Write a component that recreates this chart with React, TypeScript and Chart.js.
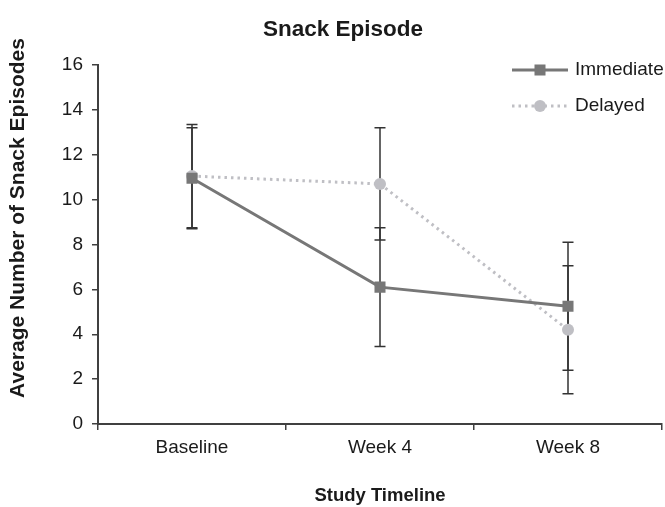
import React, { useEffect, useRef } from 'react';
import { Chart, registerables } from 'chart.js';

Chart.register(...registerables);

const categories = ['Baseline', 'Week 4', 'Week 8'];
const immediateMeans = [10.95, 6.1, 5.25];
const immediateErr = [2.25, 2.65, 2.85];
const delayedMeans = [11.05, 10.7, 4.2];
const delayedErr = [2.3, 2.5, 2.85];
const seriesLabels = ['Immediate', 'Delayed'];
const chartTitle = 'Snack Episode';
const xTitle = 'Study Timeline';
const yTitle = 'Average Number of Snack Episodes';

const FONT = "'Liberation Sans', Arial, sans-serif";
const IMM_COLOR = '#777777';
const DEL_COLOR = '#bfbfc4';
const AXIS_COLOR = '#404040';
const ERR_COLOR = '#333333';
const TEXT_COLOR = '#1a1a1a';

const errorBarPlugin = {
  id: 'errorBars',
  beforeDatasetsDraw(chart: any) {
    const ctx = chart.ctx;
    const xs = chart.scales.x;
    const ys = chart.scales.y;
    const errs = [immediateErr, delayedErr];
    ctx.save();
    ctx.strokeStyle = ERR_COLOR;
    ctx.lineWidth = 1.5;
    chart.data.datasets.forEach((ds: any, di: number) => {
      ds.data.forEach((v: number, i: number) => {
        const x = xs.getPixelForValue(i);
        const yTop = ys.getPixelForValue(v + errs[di][i]);
        const yBot = ys.getPixelForValue(v - errs[di][i]);
        ctx.beginPath();
        ctx.moveTo(x, yTop);
        ctx.lineTo(x, yBot);
        ctx.moveTo(x - 5.5, yTop);
        ctx.lineTo(x + 5.5, yTop);
        ctx.moveTo(x - 5.5, yBot);
        ctx.lineTo(x + 5.5, yBot);
        ctx.stroke();
      });
    });
    ctx.restore();
  },
};

const textPlugin = {
  id: 'customText',
  afterDraw(chart: any) {
    const ctx = chart.ctx;
    ctx.save();
    // chart title
    ctx.fillStyle = TEXT_COLOR;
    ctx.font = `bold 22.5px ${FONT}`;
    ctx.textAlign = 'center';
    ctx.textBaseline = 'middle';
    ctx.fillText(chartTitle, 343, 30);
    // y axis title
    ctx.save();
    ctx.translate(18, 218);
    ctx.rotate(-Math.PI / 2);
    ctx.font = `bold 21px ${FONT}`;
    ctx.fillText(yTitle, 0, 0);
    ctx.restore();
    // legend
    const rows = [
      { label: chart.data.datasets[0].label, y: 70, color: IMM_COLOR, dash: [] as number[], shape: 'rect' },
      { label: chart.data.datasets[1].label, y: 106, color: DEL_COLOR, dash: [2.5, 4], shape: 'circle' },
    ];
    rows.forEach((r) => {
      ctx.strokeStyle = r.color;
      ctx.lineWidth = 3;
      ctx.setLineDash(r.dash);
      ctx.beginPath();
      ctx.moveTo(512, r.y);
      ctx.lineTo(568, r.y);
      ctx.stroke();
      ctx.setLineDash([]);
      ctx.fillStyle = r.color;
      if (r.shape === 'rect') {
        ctx.fillRect(540 - 5.5, r.y - 5.5, 11, 11);
      } else {
        ctx.beginPath();
        ctx.arc(540, r.y, 6, 0, Math.PI * 2);
        ctx.fill();
      }
      ctx.fillStyle = TEXT_COLOR;
      ctx.font = `19px ${FONT}`;
      ctx.textAlign = 'left';
      ctx.textBaseline = 'middle';
      ctx.fillText(r.label, 575, r.y);
    });
    ctx.restore();
  },
};

export default function App() {
  const ref = useRef<HTMLCanvasElement | null>(null);
  useEffect(() => {
    document.body.style.margin = '0';
    const canvas = ref.current!;
    const chart = new Chart(canvas, {
      type: 'line',
      data: {
        labels: categories,
        datasets: [
          {
            label: seriesLabels[0],
            data: immediateMeans,
            borderColor: IMM_COLOR,
            backgroundColor: IMM_COLOR,
            borderWidth: 3,
            pointStyle: 'rect',
            pointRadius: 7.8,
            pointBorderWidth: 0,
            tension: 0,
          },
          {
            label: seriesLabels[1],
            data: delayedMeans,
            borderColor: DEL_COLOR,
            backgroundColor: DEL_COLOR,
            borderWidth: 3,
            borderDash: [2.5, 4],
            pointStyle: 'circle',
            pointRadius: 6,
            pointBorderWidth: 0,
            tension: 0,
          },
        ],
      },
      options: {
        responsive: false,
        animation: false,
        layout: { autoPadding: false, padding: { top: 65, right: 3, left: 0, bottom: 0 } },
        plugins: {
          legend: { display: false },
          title: { display: false },
          tooltip: { enabled: false },
        },
        scales: {
          x: {
            offset: true,
            grid: {
              display: true,
              offset: true,
              drawOnChartArea: false,
              drawTicks: true,
              tickLength: 6,
              color: AXIS_COLOR,
              lineWidth: 1.5,
            },
            border: { display: true, color: AXIS_COLOR, width: 2 },
            ticks: { color: TEXT_COLOR, font: { family: FONT, size: 19 }, padding: 6 },
            title: {
              display: true,
              text: xTitle,
              color: TEXT_COLOR,
              font: { family: FONT, size: 18.5, weight: 'bold' },
              padding: { top: 0, bottom: 0 },
            },
            afterFit(scale: any) {
              scale.height = 83;
              scale.paddingLeft = 0;
              scale.paddingRight = 0;
            },
          },
          y: {
            min: 0,
            max: 16,
            ticks: { stepSize: 2, color: TEXT_COLOR, font: { family: FONT, size: 19 }, padding: 9 },
            grid: {
              display: true,
              drawOnChartArea: false,
              drawTicks: true,
              tickLength: 6,
              color: AXIS_COLOR,
              lineWidth: 1.5,
            },
            border: { display: true, color: AXIS_COLOR, width: 2 },
            title: { display: false },
            afterFit(scale: any) {
              scale.width = 98;
            },
          },
        },
      },
      plugins: [errorBarPlugin, textPlugin],
    });
    return () => chart.destroy();
  }, []);
  return (
    <div style={{ position: 'absolute', left: 0, top: 0, width: 665, height: 507, background: '#fff' }}>
      <canvas ref={ref} width={665} height={507} style={{ width: 665, height: 507, display: 'block' }} />
    </div>
  );
}
